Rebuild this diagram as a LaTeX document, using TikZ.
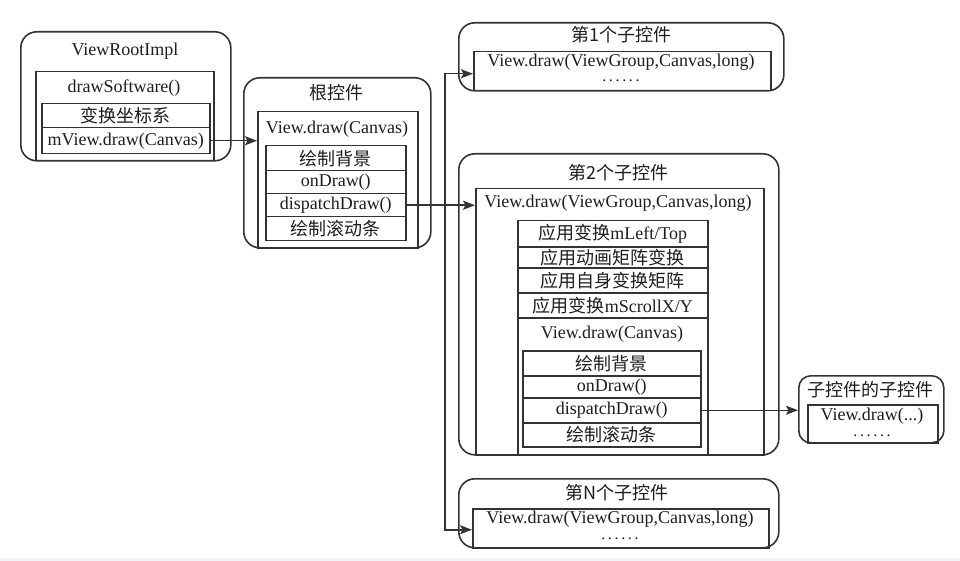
\documentclass[tikz,border=0pt]{standalone}
\usepackage{fontspec}
\setmainfont{Liberation Serif}
\newfontfamily\cjk{Noto Sans CJK SC}
\usetikzlibrary{arrows.meta}
\definecolor{ink}{HTML}{333333}
\definecolor{txt}{HTML}{1E1E1E}
\definecolor{band}{HTML}{F1F5F9}
\newcommand{\dotrun}{{\fontsize{16}{16}\selectfont .\,.\,.\,.\,.\,.}}
\tikzset{
  frame/.style={draw=ink, line width=1.6pt, rounded corners=16pt, anchor=north west, inner sep=0pt},
  panel/.style={draw=ink, line width=1.5pt, anchor=north west, inner sep=0pt},
  row/.style={draw=ink, line width=1.5pt, anchor=north west, inner sep=0pt, text=txt, font=\fontsize{18}{20}\selectfont},
  lbl/.style={inner sep=0pt, text=txt, font=\fontsize{18}{20}\selectfont},
  dots/.style={inner sep=0pt, text=txt},
  arr/.style={draw=ink, line width=1.5pt, -{Stealth[length=12pt,width=9pt,inset=2.5pt]}},
}
\begin{document}
\begin{tikzpicture}[x=1pt,y=-1pt]
\useasboundingbox (0,0) rectangle (960,561);
\fill[white] (0,0) rectangle (960,561);
\fill[band] (0,558) rectangle (960,561);

% ViewRootImpl
\node[frame, minimum width=210pt, minimum height=129pt] (vri) at (20,31) {};
\node[lbl] (vrit) at (125,51) {ViewRootImpl};
\node[panel, minimum width=178pt, minimum height=89pt] (dsw) at (35,71) {};
\node[lbl] (dswt) at (124,88) {drawSoftware()};
\node[row, minimum width=168pt, minimum height=24pt] (vr1) at (41,103) {\cjk 变换坐标系};
\node[row, minimum width=168pt, minimum height=26pt] (vr2) at (41,127) {mView.draw(Canvas)};

% root view
\node[frame, minimum width=187pt, minimum height=170pt] (root) at (243,77) {};
\node[lbl] (roott) at (336,93) {\cjk 根控件};
\node[panel, minimum width=160pt, minimum height=136pt] (rootin) at (257,111) {};
\node[lbl] (rootint) at (337,129) {View.draw(Canvas)};
\node[row, minimum width=140pt, minimum height=25pt] (rbg) at (265,145) {\cjk 绘制背景};
\node[row, minimum width=140pt, minimum height=23pt] (rod) at (265,170) {onDraw()};
\node[row, minimum width=140pt, minimum height=23pt] (rdisp) at (265,193) {dispatchDraw()};
\node[row, minimum width=140pt, minimum height=24pt] (rsb) at (265,216) {\cjk 绘制滚动条};

% first child
\node[frame, minimum width=325pt, minimum height=68pt] (c1) at (458,22) {};
\node[lbl] (c1t) at (621,35) {\cjk 第1个子控件};
\node[panel, minimum width=297pt, minimum height=39pt] (c1in) at (473,51) {};
\node[lbl] (c1a) at (621,62) {View.draw(ViewGroup,Canvas,long)};
\node[dots] (c1b) at (621,81) {\dotrun};

% second child
\node[frame, minimum width=320pt, minimum height=301pt] (c2) at (458,153) {};
\node[lbl] (c2t) at (618,173) {\cjk 第2个子控件};
\node[panel, minimum width=288pt, minimum height=266pt] (c2in) at (475,188) {};
\node[lbl] (c2a) at (618,203) {View.draw(ViewGroup,Canvas,long)};
\node[row, minimum width=190pt, minimum height=26pt] (s1) at (517,220) {{\cjk 应用变换}mLeft/Top};
\node[row, minimum width=190pt, minimum height=21pt] (s2) at (517,246) {\cjk 应用动画矩阵变换};
\node[row, minimum width=190pt, minimum height=25pt] (s3) at (517,267) {\cjk 应用自身变换矩阵};
\node[row, minimum width=190pt, minimum height=25pt] (s4) at (517,292) {{\cjk 应用变换}mScrollX/Y};
\node[panel, minimum width=190pt, minimum height=137pt] (s5) at (517,317) {};
\node[lbl] (s5t) at (612,334) {View.draw(Canvas)};
\node[row, minimum width=178pt, minimum height=25pt] (cbg) at (522,350) {\cjk 绘制背景};
\node[row, minimum width=178pt, minimum height=22pt] (cod) at (522,375) {onDraw()};
\node[row, minimum width=178pt, minimum height=25pt] (cdisp) at (522,397) {dispatchDraw()};
\node[row, minimum width=178pt, minimum height=24pt] (csb) at (522,422) {\cjk 绘制滚动条};

% child of child
\node[frame, rounded corners=12pt, minimum width=145pt, minimum height=67pt] (gc) at (798,375) {};
\node[lbl] (gct) at (870,390) {\cjk 子控件的子控件};
\node[panel, minimum width=130pt, minimum height=38pt] (gcin) at (807,404) {};
\node[lbl] (gca) at (872,416) {View.draw(...)};
\node[dots] (gcb) at (872,436) {\dotrun};

% N-th child
\node[frame, minimum width=320pt, minimum height=69pt] (cn) at (458,478) {};
\node[lbl] (cnt) at (617,493) {\cjk 第N个子控件};
\node[panel, minimum width=296pt, minimum height=39pt] (cnin) at (472,508) {};
\node[lbl] (cna) at (620,519) {View.draw(ViewGroup,Canvas,long)};
\node[dots] (cnb) at (620,539) {\dotrun};

% connectors
\draw[arr] (vr2.east) -- (rootin.west |- vr2.east);
\coordinate (tj) at (445,0);
\draw[arr] (rdisp.east) -- (c2in.west |- rdisp.east);
\draw[arr] (tj |- rdisp.east) |- ([yshift=-2.5pt]c1in.west);
\draw[arr] (tj |- rdisp.east) |- ([yshift=-1.5pt]cnin.west);
\draw[arr] (cdisp.east) -- (gc.west |- cdisp.east);
\end{tikzpicture}
\end{document}
